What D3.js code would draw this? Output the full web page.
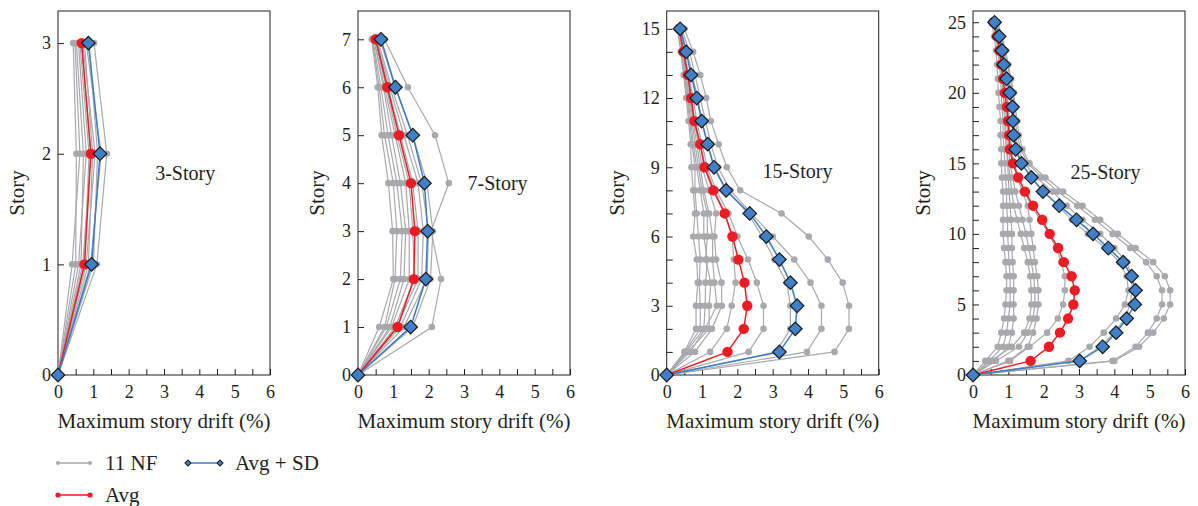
<!DOCTYPE html>
<html>
<head>
<meta charset="utf-8">
<script src="https://cdn.jsdelivr.net/npm/d3@7/dist/d3.min.js"></script>
<style>
body { margin: 0; background: #fff; }
svg text { font-family: "Liberation Serif", "DejaVu Serif", serif !important; fill: #231f20; }
</style>
</head>
<body>
<div id="chart-area"></div>
<script>
// max story drift (%), listed story 1 .. roof (story 0 = ground, always 0)

// 3-story, 11 near-fault records
var nf3 = [
    [0.40, 0.62, 0.48], [0.50, 0.52, 0.43], [0.58, 0.80, 0.58], [0.65, 0.72, 0.52],
    [0.70, 0.93, 0.66], [0.75, 0.88, 0.62], [0.80, 1.05, 0.70], [0.86, 0.98, 0.75],
    [0.92, 1.22, 0.80], [1.00, 1.12, 0.88], [1.10, 1.38, 1.02]
];
var avg3 = [0.75, 0.93, 0.67];
var sd3 = [0.95, 1.19, 0.86];

// 7-story
var nf7 = [
    [2.09, 2.35, 2.07, 2.57, 2.18, 1.41, 0.75],
    [1.55, 2.05, 2.12, 1.95, 1.55, 1.05, 0.62],
    [1.30, 1.95, 2.00, 1.80, 1.40, 0.95, 0.55],
    [1.20, 1.80, 1.85, 1.70, 1.30, 0.90, 0.52],
    [1.10, 1.70, 1.70, 1.55, 1.20, 0.85, 0.50],
    [1.05, 1.60, 1.55, 1.45, 1.10, 0.80, 0.48],
    [0.95, 1.45, 1.45, 1.35, 1.05, 0.75, 0.45],
    [0.90, 1.30, 1.35, 1.20, 0.95, 0.72, 0.45],
    [0.80, 1.20, 1.25, 1.10, 0.85, 0.65, 0.42],
    [0.75, 1.05, 1.10, 1.00, 0.75, 0.60, 0.40],
    [0.60, 1.00, 0.98, 0.86, 0.67, 0.56, 0.39]
];
var avg7 = [1.12, 1.58, 1.61, 1.50, 1.16, 0.83, 0.50];
var sd7 = [1.49, 1.92, 1.97, 1.88, 1.55, 1.06, 0.65];

// 15-story
var nf15 = [
    [4.75, 5.16, 5.16, 4.98, 4.56, 4.02, 3.25, 2.08, 1.70, 1.47, 1.25, 1.12, 0.95, 0.75, 0.50],
    [3.97, 4.38, 4.38, 4.07, 3.61, 3.00, 2.40, 1.80, 1.45, 1.25, 1.10, 0.95, 0.80, 0.65, 0.42],
    [3.10, 3.50, 3.50, 3.40, 3.05, 2.70, 2.30, 1.70, 1.35, 1.15, 1.00, 0.88, 0.72, 0.58, 0.40],
    [2.32, 2.74, 2.74, 2.55, 2.30, 2.00, 1.75, 1.40, 1.15, 1.00, 0.85, 0.75, 0.62, 0.50, 0.36],
    [1.23, 1.70, 1.84, 1.95, 1.90, 1.85, 1.65, 1.35, 1.10, 0.95, 0.80, 0.70, 0.60, 0.48, 0.35],
    [0.80, 1.28, 1.56, 1.55, 1.40, 1.35, 1.40, 1.20, 1.00, 0.90, 0.78, 0.68, 0.58, 0.46, 0.34],
    [0.66, 1.09, 1.42, 1.35, 1.30, 1.30, 1.20, 1.05, 0.95, 0.85, 0.75, 0.65, 0.55, 0.45, 0.33],
    [0.60, 1.20, 1.20, 1.25, 1.10, 1.15, 1.15, 1.00, 0.90, 0.80, 0.72, 0.62, 0.52, 0.44, 0.32],
    [0.55, 1.05, 1.09, 1.10, 1.15, 1.05, 1.05, 0.95, 0.85, 0.75, 0.68, 0.60, 0.50, 0.42, 0.32],
    [0.52, 0.95, 0.95, 0.92, 0.95, 0.90, 0.85, 0.80, 0.80, 0.72, 0.65, 0.58, 0.50, 0.42, 0.30],
    [0.50, 0.83, 0.83, 0.88, 0.85, 0.75, 0.80, 0.75, 0.70, 0.68, 0.62, 0.55, 0.48, 0.40, 0.30]
];
var avg15 = [1.72, 2.18, 2.28, 2.20, 2.03, 1.86, 1.64, 1.32, 1.07, 0.95, 0.78, 0.69, 0.60, 0.47, 0.36];
var sd15 = [3.19, 3.64, 3.69, 3.50, 3.19, 2.82, 2.35, 1.68, 1.34, 1.16, 0.99, 0.85, 0.69, 0.55, 0.38];

// 25-story
var nf25 = [
    [0.35, 0.70, 0.80, 0.88, 0.92, 0.95, 0.95, 0.92, 0.88, 0.85, 0.85, 0.85, 0.85, 0.82, 0.80, 0.80, 0.78, 0.78, 0.75, 0.72, 0.70, 0.68, 0.65, 0.60, 0.52],
    [0.45, 0.85, 0.95, 1.00, 1.05, 1.05, 1.05, 1.02, 1.00, 0.98, 0.98, 0.95, 0.95, 0.92, 0.90, 0.88, 0.85, 0.85, 0.82, 0.80, 0.78, 0.75, 0.70, 0.65, 0.55],
    [0.60, 1.00, 1.10, 1.15, 1.15, 1.15, 1.15, 1.12, 1.10, 1.10, 1.08, 1.05, 1.02, 1.00, 0.98, 0.95, 0.92, 0.90, 0.88, 0.85, 0.82, 0.80, 0.75, 0.68, 0.58],
    [0.50, 1.10, 1.45, 1.60, 1.65, 1.65, 1.62, 1.55, 1.45, 1.35, 1.25, 1.15, 1.10, 1.05, 1.00, 0.95, 0.92, 0.90, 0.88, 0.85, 0.82, 0.78, 0.75, 0.68, 0.58],
    [0.65, 1.30, 1.55, 1.70, 1.75, 1.75, 1.72, 1.65, 1.58, 1.50, 1.40, 1.30, 1.20, 1.12, 1.05, 1.00, 0.98, 0.95, 0.92, 0.90, 0.85, 0.82, 0.78, 0.70, 0.60],
    [1.00, 1.55, 1.70, 1.80, 1.85, 1.85, 1.82, 1.75, 1.70, 1.65, 1.60, 1.55, 1.40, 1.25, 1.15, 1.10, 1.05, 1.02, 1.00, 0.95, 0.90, 0.85, 0.80, 0.72, 0.62],
    [1.05, 1.60, 2.10, 2.40, 2.55, 2.60, 2.60, 2.50, 2.35, 2.15, 1.90, 1.65, 1.45, 1.30, 1.15, 1.08, 1.05, 1.02, 1.00, 0.95, 0.90, 0.85, 0.80, 0.72, 0.62],
    [2.70, 3.30, 3.70, 4.05, 4.30, 4.40, 4.35, 4.15, 3.75, 3.25, 2.80, 2.40, 2.00, 1.65, 1.38, 1.22, 1.15, 1.12, 1.10, 1.05, 0.98, 0.90, 0.85, 0.75, 0.62],
    [3.00, 3.60, 4.00, 4.30, 4.45, 4.50, 4.50, 4.35, 4.00, 3.60, 3.10, 2.65, 2.25, 1.80, 1.45, 1.28, 1.20, 1.15, 1.12, 1.08, 1.00, 0.92, 0.88, 0.78, 0.65],
    [3.95, 4.60, 4.95, 5.20, 5.35, 5.35, 5.20, 4.90, 4.45, 3.95, 3.45, 2.95, 2.40, 1.95, 1.55, 1.35, 1.25, 1.20, 1.18, 1.12, 1.05, 0.98, 0.90, 0.80, 0.68],
    [4.00, 4.70, 5.10, 5.40, 5.58, 5.58, 5.43, 5.10, 4.60, 4.10, 3.60, 3.10, 2.55, 2.05, 1.60, 1.40, 1.30, 1.25, 1.20, 1.15, 1.08, 1.00, 0.92, 0.82, 0.70]
];
var avg25 = [1.63, 2.15, 2.46, 2.69, 2.84, 2.88, 2.79, 2.57, 2.41, 2.17, 1.96, 1.70, 1.47, 1.28, 1.13,
    1.04, 1.02, 0.99, 0.96, 0.90, 0.85, 0.80, 0.75, 0.68, 0.58];
var sd25 = [3.02, 3.67, 4.05, 4.35, 4.58, 4.60, 4.49, 4.25, 3.83, 3.40, 2.93, 2.44, 1.98, 1.65, 1.37,
    1.21, 1.15, 1.13, 1.12, 1.04, 0.95, 0.87, 0.82, 0.74, 0.61];

var panelNames = ['3-Story', '7-Story', '15-Story', '25-Story'];
var yLabelStep = [1, 1, 3, 5];

var def = {
    width: 1198,
    height: 506,
    top: 11,
    plotW: 212,
    plotH: 364,
    gray: '#a7a9ac',
    red: '#ed1c24',
    blue: '#3a7bc8',
    ink: '#231f20',
    font: '"Liberation Serif", "DejaVu Serif", serif'
};

// layout per panel
var panels = [
    { name: panelNames[0], nf: nf3, avg: avg3, sd: sd3, left: 58, ymax: 3.29, step: yLabelStep[0], titleX: 17, lab: [3.6, 1.83] },
    { name: panelNames[1], nf: nf7, avg: avg7, sd: sd7, left: 358, ymax: 7.59, step: yLabelStep[1], titleX: 317, lab: [3.95, 4.0] },
    { name: panelNames[2], nf: nf15, avg: avg15, sd: sd15, left: 666.7, ymax: 15.77, step: yLabelStep[2], titleX: 617, lab: [3.7, 8.85] },
    { name: panelNames[3], nf: nf25, avg: avg25, sd: sd25, left: 973, ymax: 25.8, step: yLabelStep[3], titleX: 923, lab: [3.75, 14.4] }
];

var svg = d3.select('#chart-area').append('svg')
    .attr('width', def.width)
    .attr('height', def.height)
    .style('font-family', def.font);

function withGround(arr) {
    return [0].concat(arr).map((v, i) => ({ x: v, s: i }));
}

var diamond = d3.symbol().type(d3.symbolSquare).size(92);

panels.forEach(p => {
    var g = svg.append('g')
        .attr('transform', 'translate(' + p.left + ',' + def.top + ')');

    var x = d3.scaleLinear().domain([0, 6]).range([0, def.plotW]);
    var y = d3.scaleLinear().domain([0, p.ymax]).range([def.plotH, 0]);

    var line = d3.line().x(d => x(d.x)).y(d => y(d.s));

    // axes (ticks point inward)
    var xAx = d3.axisBottom(x)
        .tickValues(d3.range(0, 6.01, 0.5))
        .tickSize(-6)
        .tickPadding(10)
        .tickFormat(d => Number.isInteger(d) ? d : '');
    var xg = g.append('g')
        .attr('transform', 'translate(0,' + def.plotH + ')')
        .call(xAx);

    var nTop = Math.floor(p.ymax);
    var yAx = d3.axisLeft(y)
        .tickValues(d3.range(0, nTop + 1))
        .tickSize(-6)
        .tickPadding(7)
        .tickFormat(d => d % p.step === 0 ? d : '');
    var yg = g.append('g').call(yAx);

    [xg, yg].forEach(a => {
        a.attr('font-family', null).style('font-family', def.font);
        a.select('.domain').remove();
        a.selectAll('line').attr('stroke', def.ink);
        a.selectAll('text')
            .style('font-family', def.font)
            .style('font-size', '18px')
            .attr('fill', def.ink);
    });

    g.append('rect')
        .attr('width', def.plotW)
        .attr('height', def.plotH)
        .attr('fill', 'none')
        .attr('stroke', def.ink)
        .attr('stroke-width', 1);

    // 11 NF
    p.nf.forEach(rec => {
        var pts = withGround(rec);
        g.append('path')
            .datum(pts)
            .attr('d', line)
            .attr('fill', 'none')
            .attr('stroke', def.gray)
            .attr('stroke-width', 1.2);
        g.selectAll(null)
            .data(pts.slice(1))
            .enter()
            .append('circle')
            .attr('cx', d => x(d.x))
            .attr('cy', d => y(d.s))
            .attr('r', 3.3)
            .attr('fill', def.gray);
    });

    // Avg
    var av = withGround(p.avg);
    g.append('path')
        .datum(av)
        .attr('d', line)
        .attr('fill', 'none')
        .attr('stroke', def.red)
        .attr('stroke-width', 1.5);
    g.selectAll(null)
        .data(av.slice(1))
        .enter()
        .append('circle')
        .attr('cx', d => x(d.x))
        .attr('cy', d => y(d.s))
        .attr('r', 5.2)
        .attr('fill', def.red);

    // Avg + SD
    var sd = withGround(p.sd);
    g.append('path')
        .datum(sd)
        .attr('d', line)
        .attr('fill', 'none')
        .attr('stroke', def.blue)
        .attr('stroke-width', 1.5);
    g.selectAll(null)
        .data(sd)
        .enter()
        .append('path')
        .attr('d', diamond)
        .attr('transform', d => 'translate(' + x(d.x) + ',' + y(d.s) + ') rotate(45)')
        .attr('fill', '#3f80c8')
        .attr('stroke', '#1a1a1a')
        .attr('stroke-width', 1.2);

    // panel name
    g.append('text')
        .attr('x', x(p.lab[0]))
        .attr('y', y(p.lab[1]))
        .attr('text-anchor', 'middle')
        .attr('dy', '0.35em')
        .style('font-size', '20px')
        .text(p.name);

    // X Label
    svg.append('text')
        .attr('x', p.left + def.plotW / 2)
        .attr('y', 428)
        .attr('text-anchor', 'middle')
        .style('font-size', '21px')
        .text('Maximum story drift (%)');

    // Y Label
    svg.append('text')
        .attr('transform', 'translate(' + p.titleX + ',193) rotate(-90)')
        .attr('text-anchor', 'middle')
        .attr('dy', '0.35em')
        .style('font-size', '21px')
        .text('Story');
});

// legend
var legend = [
    { label: '11 NF', color: def.gray, mark: 'dot', x: 58, y: 463, r: 2 },
    { label: 'Avg + SD', color: def.blue, mark: 'diamond', x: 188, y: 463 },
    { label: 'Avg', color: def.red, mark: 'dot', x: 58, y: 495, r: 2.6 }
];
var lw = 32;
legend.forEach(l => {
    var lg = svg.append('g').attr('transform', 'translate(' + l.x + ',' + l.y + ')');
    lg.append('line')
        .attr('x1', 0).attr('x2', lw)
        .attr('stroke', l.color)
        .attr('stroke-width', 1.5);
    [0, lw].forEach(px => {
        if (l.mark === 'dot') {
            lg.append('circle').attr('cx', px).attr('r', l.r).attr('fill', l.color);
        } else {
            lg.append('path')
                .attr('d', d3.symbol().type(d3.symbolSquare).size(18))
                .attr('transform', 'translate(' + px + ',0) rotate(45)')
                .attr('fill', '#3f80c8')
                .attr('stroke', '#1a1a1a')
                .attr('stroke-width', 1);
        }
    });
    lg.append('text')
        .attr('x', lw + 15)
        .attr('dy', '0.35em')
        .style('font-size', '21px')
        .text(l.label);
});
</script>
</body>
</html>
